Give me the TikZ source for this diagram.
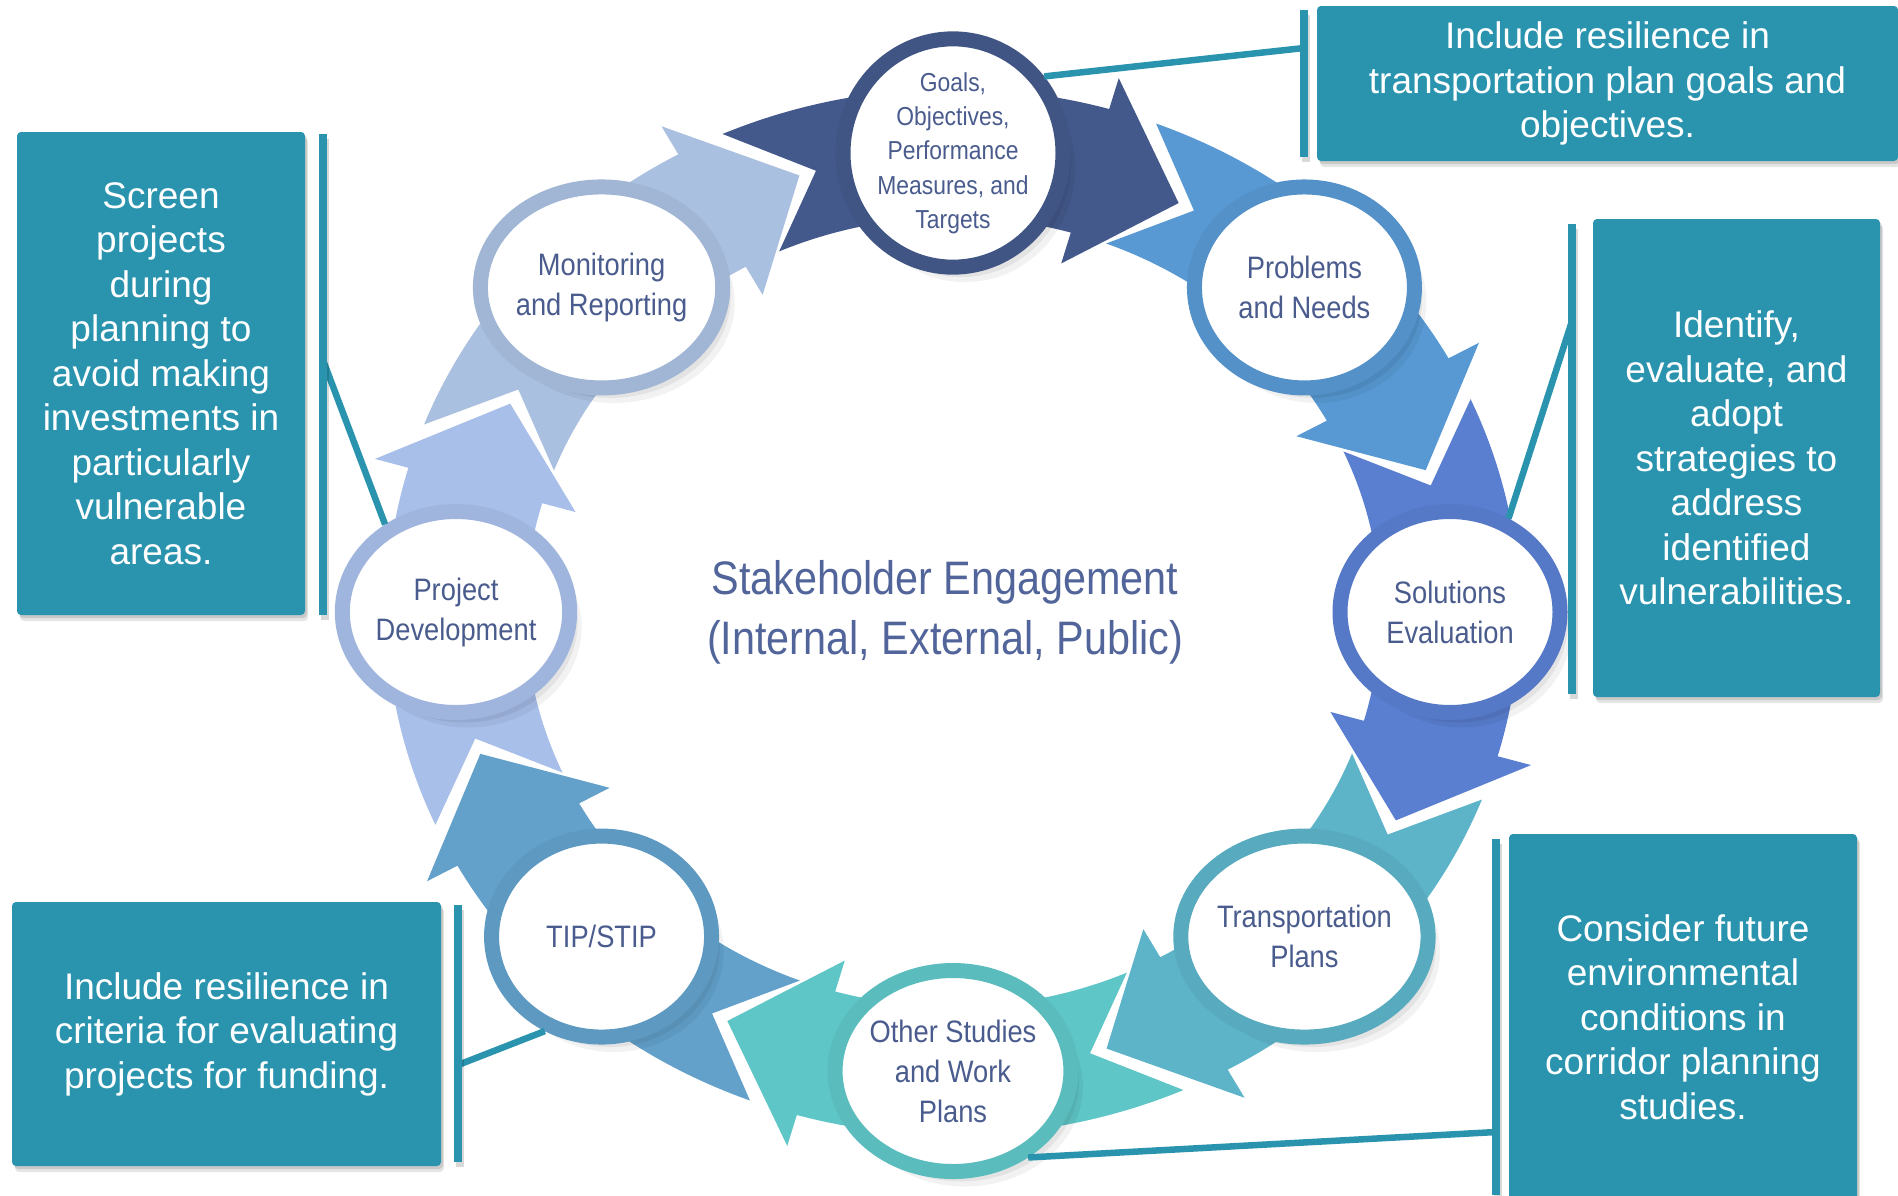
\documentclass[tikz,border=0pt]{standalone}
\usepackage{fontspec}
\setmainfont{Liberation Sans}
\newfontfamily\narrowsans[FakeStretch=0.88]{Liberation Sans}
\usetikzlibrary{shapes.geometric,shadows}

\definecolor{callteal}{HTML}{2A94AF}
\definecolor{labelblue}{HTML}{4A5C8D}
\definecolor{hubblue}{HTML}{52659A}
\definecolor{goalscol}{HTML}{44598B}
\definecolor{probcol}{HTML}{5899D4}
\definecolor{solcol}{HTML}{5A7FD0}
\definecolor{transcol}{HTML}{5DB3C8}
\definecolor{othercol}{HTML}{5FC6C7}
\definecolor{tipcol}{HTML}{63A1CB}
\definecolor{projcol}{HTML}{A8BFEA}
\definecolor{moncol}{HTML}{A9C0E0}

\newcommand\cyclearrow[2]{%
  \fill[#2] (#1-24:1.14) arc[start angle=#1-24, end angle=#1+16, radius=1.14]
    -- (#1+16:1.21) -- (#1+27:1) -- (#1+16:0.79) -- (#1+16:0.86)
    arc[start angle=#1+16, end angle=#1-24, radius=0.86] -- (#1-16:1) -- cycle;}

\begin{document}
\begin{tikzpicture}[x=1pt, y=-1pt,
  softshade/.style={drop shadow={opacity=0.06, fill=black, shadow xshift=4pt, shadow yshift=-5pt},
    drop shadow={opacity=0.06, fill=black, shadow xshift=8pt, shadow yshift=-10pt},
    drop shadow={opacity=0.05, fill=black, shadow xshift=12pt, shadow yshift=-15pt}},
  stage/.style={ellipse, draw=#1!95!black, line width=15pt, fill=white,
    minimum width=220pt, minimum height=201pt, inner sep=0pt, align=center,
    text=labelblue, font=\narrowsans\fontsize{31}{40}\selectfont, softshade},
  callout/.style={fill=callteal, rounded corners=4pt, text=white, align=center,
    inner sep=0pt, font=\fontsize{37}{44.5}\selectfont,
    drop shadow={opacity=0.12, fill=black, shadow xshift=2pt, shadow yshift=-3pt},
    drop shadow={opacity=0.1, fill=black, shadow xshift=3pt, shadow yshift=-6pt}},
  bar/.style={fill=callteal, minimum width=8pt, inner sep=0pt,
    drop shadow={opacity=0.15, fill=black, shadow xshift=2pt, shadow yshift=-5pt}},
  link/.style={draw=callteal, line width=6.5pt}]

\fill[white] (0,0) rectangle (1898,1195);
\useasboundingbox (0,0) rectangle (1898,1195);

\begin{scope}[shift={(953,612)}, x=497pt, y=-459pt]
\cyclearrow{-90}{goalscol}
\cyclearrow{-45}{probcol}
\cyclearrow{0}{solcol}
\cyclearrow{45}{transcol}
\cyclearrow{90}{othercol}
\cyclearrow{135}{tipcol}
\cyclearrow{180}{projcol}
\cyclearrow{225}{moncol}

\node[stage=goalscol, font=\narrowsans\fontsize{26}{34.3}\selectfont] (goals) at (-90:1)
  {Goals,\\Objectives,\\Performance\\Measures, and\\Targets};
\node[stage=probcol] (problems) at (-45:1) {Problems\\and Needs};
\node[stage=solcol] (solutions) at (0:1) {Solutions\\Evaluation};
\node[stage=transcol] (transport) at (45:1) {Transportation\\Plans};
\node[stage=othercol] (other) at (90:1) {Other Studies\\and Work\\Plans};
\node[stage=tipcol] (tip) at (135:1) {TIP/STIP};
\node[stage=projcol] (project) at (180:1) {Project\\Development};
\node[stage=moncol] (monitor) at (225:1) {Monitoring\\and Reporting};
\end{scope}

\node[text=hubblue, align=center, font=\narrowsans\fontsize{47}{60}\selectfont] (hub)
  at (945,612) {Stakeholder Engagement\\(Internal, External, Public)};

\coordinate (goalend) at (1304,48);
\coordinate (solend) at (1572,321);
\coordinate (projend) at (323,360);
\coordinate (tipend) at (458,1065);
\coordinate (otherend) at (1496,1132);

\draw[link] (goals.40) -- (goalend);
\draw[link] (solutions.58) -- (solend);
\draw[link] (project.129) -- (projend);
\draw[link] (tip.239) -- (tipend);
\draw[link] (other.311) -- (otherend);

\node[bar, minimum height=147pt] (goalbar) at (1304,83.5) {};
\node[bar, minimum height=470pt] (solbar) at (1572,459) {};
\node[bar, minimum height=481pt] (projbar) at (323,374.5) {};
\node[bar, minimum height=257pt] (tipbar) at (458,1033.5) {};
\node[bar, minimum height=356pt] (otherbar) at (1496,1017) {};

\node[callout, minimum width=581pt, minimum height=155pt] (goalnote) at (1607.5,83.5)
  {Include resilience in\\transportation plan goals and\\objectives.};
\node[callout, minimum width=287pt, minimum height=478pt] (solnote) at (1736.5,458)
  {Identify,\\evaluate, and\\adopt\\strategies to\\address\\identified\\vulnerabilities.};
\node[callout, minimum width=288pt, minimum height=483pt] (projnote) at (161,373.5)
  {Screen\\projects\\during\\planning to\\avoid making\\investments in\\particularly\\vulnerable\\areas.};
\node[callout, minimum width=429pt, minimum height=264pt] (tipnote) at (226.5,1034)
  {Include resilience in\\criteria for evaluating\\projects for funding.};
\node[callout, minimum width=348pt, minimum height=366pt] (othernote) at (1683,1017)
  {Consider future\\environmental\\conditions in\\corridor planning\\studies.};
\end{tikzpicture}
\end{document}
